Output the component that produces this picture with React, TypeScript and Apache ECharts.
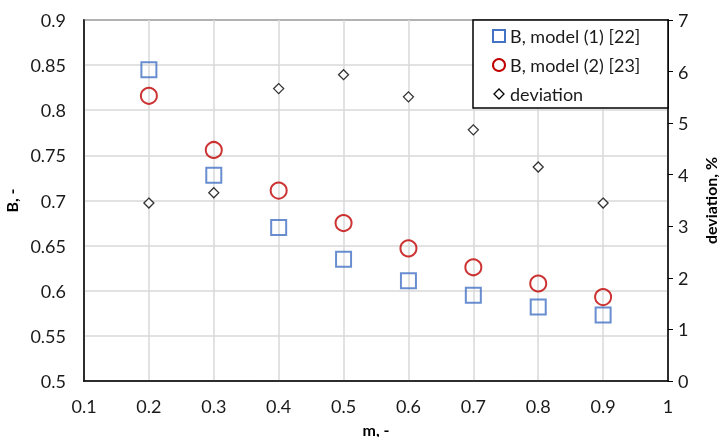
import React, { useEffect, useRef } from "react";
import * as echarts from "echarts";

const xValues = [0.2, 0.3, 0.4, 0.5, 0.6, 0.7, 0.8, 0.9];
const modelOne = [0.845, 0.728, 0.67, 0.635, 0.611, 0.595, 0.582, 0.573];
const modelTwo = [0.816, 0.756, 0.711, 0.675, 0.647, 0.626, 0.608, 0.593];
const deviation = [3.45, 3.65, 5.67, 5.94, 5.51, 4.87, 4.15, 3.45];
const legendNames = ["B, model (1) [22]", "B, model (2) [23]", "deviation"];

const FONT = "Lato, 'Open Sans', sans-serif";
const BLUE = "#4472C4";
const RED = "#C00000";

export default function App() {
  const ref = useRef<HTMLDivElement>(null);
  useEffect(() => {
    if (!ref.current) return;
    const chart = echarts.init(ref.current, undefined, { renderer: "svg" });
    const labelStyle = { fontFamily: FONT, fontSize: 18, color: "#1a1a1a" };
    const nameStyle = { fontFamily: FONT, fontSize: 16, fontWeight: "bold" as const, color: "#000" };
    const lx = 473, ly = 20, lw = 195, lh = 88;
    const rows = [36, 65, 94];
    chart.setOption({
      animation: false,
      grid: { left: 84, right: 53, top: 20, bottom: 56, show: true, borderColor: "#000", borderWidth: 1.5, backgroundColor: "transparent", outerBoundsMode: "none", containLabel: false },
      xAxis: {
        type: "value", min: 0.1, max: 1, interval: 0.1,
        name: "m, -", nameLocation: "middle", nameGap: 40, nameTextStyle: nameStyle,
        axisLine: { show: true, lineStyle: { color: "#000", width: 1.5 } },
        axisTick: { show: false },
        axisLabel: { ...labelStyle, margin: 16 },
        splitLine: { show: true, lineStyle: { color: "#d9d9d9", width: 1.5 } },
      },
      yAxis: [
        {
          type: "value", min: 0.5, max: 0.9, interval: 0.05, position: "left",
          name: "B, -", nameLocation: "middle", nameGap: 64, nameRotate: 90, nameTextStyle: nameStyle,
          axisLine: { show: true, lineStyle: { color: "#000", width: 1.5 } },
          axisTick: { show: false },
          axisLabel: { ...labelStyle, margin: 18 },
          splitLine: { show: true, lineStyle: { color: "#d9d9d9", width: 1.5 } },
        },
        {
          type: "value", min: 0, max: 7, interval: 1, position: "right",
          name: "deviation, %", nameLocation: "middle", nameGap: 34, nameRotate: 90, nameTextStyle: nameStyle,
          axisLine: { show: true, lineStyle: { color: "#000", width: 1.5 } },
          axisTick: { show: true, inside: false, length: 5, lineStyle: { color: "#000", width: 1 } },
          axisLabel: { ...labelStyle, margin: 10 },
          splitLine: { show: false },
        },
      ],
      series: [
        {
          name: legendNames[0], type: "scatter", yAxisIndex: 0, symbol: "rect", symbolSize: 15, z: 3,
          itemStyle: { color: "rgba(255,255,255,0)", borderColor: BLUE, borderWidth: 2 },
          data: xValues.map((x, i) => [x, modelOne[i]]),
        },
        {
          name: legendNames[1], type: "scatter", yAxisIndex: 0, symbol: "circle", symbolSize: 16, z: 4,
          itemStyle: { color: "rgba(255,255,255,0)", borderColor: RED, borderWidth: 2 },
          data: xValues.map((x, i) => [x, modelTwo[i]]),
        },
        {
          name: legendNames[2], type: "scatter", yAxisIndex: 1, symbol: "diamond", symbolSize: 10, z: 5,
          itemStyle: { color: "#fff", borderColor: "#000", borderWidth: 1.3 },
          data: xValues.map((x, i) => [x, deviation[i]]),
        },
      ],
      graphic: [
        { type: "rect", z: 10, shape: { x: lx, y: ly, width: lw, height: lh }, style: { fill: "#fff", stroke: "#000", lineWidth: 1.5 } },
        { type: "rect", z: 11, shape: { x: 493, y: rows[0] - 6, width: 12, height: 12 }, style: { fill: "none", stroke: BLUE, lineWidth: 2 } },
        { type: "circle", z: 11, shape: { cx: 499, cy: rows[1], r: 6 }, style: { fill: "none", stroke: RED, lineWidth: 2 } },
        { type: "polygon", z: 11, shape: { points: [[499, rows[2] - 5], [504, rows[2]], [499, rows[2] + 5], [494, rows[2]]] }, style: { fill: "#fff", stroke: "#000", lineWidth: 1.3 } },
        ...legendNames.map((n, i) => ({
          type: "text", z: 11, x: 510, y: rows[i],
          style: { text: n, fontFamily: FONT, fontSize: 18, fill: "#1a1a1a", verticalAlign: "middle" },
        })),
      ],
    });
    return () => chart.dispose();
  }, []);
  return <div ref={ref} style={{ position: "fixed", left: 0, top: 0, width: 721, height: 437 }} />;
}
